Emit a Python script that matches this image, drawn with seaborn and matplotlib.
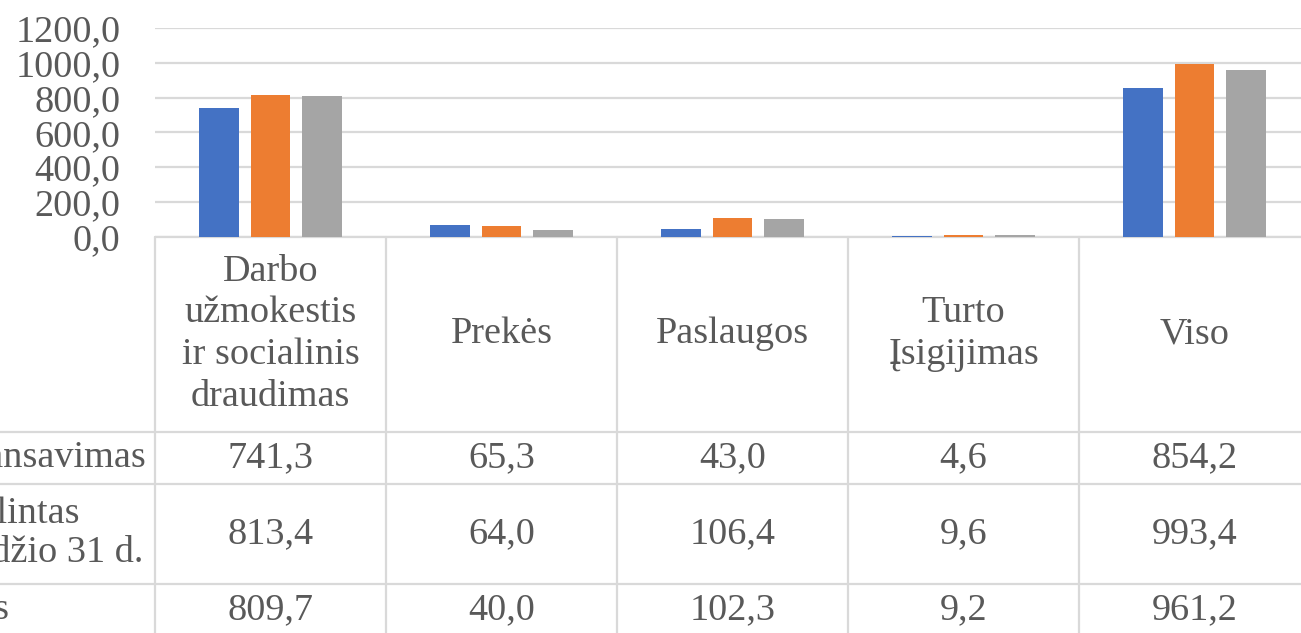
import matplotlib.pyplot as plt
import pandas as pd
import seaborn as sns


CATEGORIES = ["Darbo\nužmokestis\nir socialinis\ndraudimas", "Prekės", "Paslaugos", "Turto\nĮsigijimas", "Viso"]
SERIES = ["Finansavimas", "Patikslintas\niki gruodžio 31 d.", "Kasinės išlaidos"]
FINANSAVIMAS = [741.3, 65.3, 43.0, 4.6, 854.2]
PATIKSLINTAS = [813.4, 64.0, 106.4, 9.6, 993.4]
KASINES = [809.7, 40.0, 102.3, 9.2, 961.2]
Y_TICKS = [0, 200, 400, 600, 800, 1000, 1200]

COLORS = ["#4472C4", "#ED7D31", "#A5A5A5"]
TEXT = "#595959"
LINE = "#D9D9D9"
FS = 27.5

W, H = 1301, 633


def fmt(v: float) -> str:
    return f"{v:.1f}".replace(".", ",")


def main() -> None:
    sns.set_theme(style="white")
    plt.rcParams["font.family"] = ["Liberation Serif", "DejaVu Serif"]
    plt.rcParams["font.size"] = FS

    values = [FINANSAVIMAS, PATIKSLINTAS, KASINES]
    frame = pd.DataFrame(
        [
            {"category": c, "series": s, "value": v}
            for s, vals in zip(SERIES, values)
            for c, v in zip(CATEGORIES, vals)
        ]
    )

    fig = plt.figure(figsize=(W / 100, H / 100), dpi=100)

    # table grid drawn in pixel coordinates
    tab = fig.add_axes([0, 0, 1, 1])
    tab.set_xlim(0, W)
    tab.set_ylim(H, 0)
    tab.axis("off")

    x0, col_w = 155, 231
    y_axis = 236.7
    row_lines = [432, 484, 584]
    for i in range(len(CATEGORIES) + 1):
        tab.plot([x0 + i * col_w] * 2, [y_axis, H + 5], color=LINE, lw=1.6, zorder=1)
    tab.plot([x0, W + 10], [y_axis, y_axis], color=LINE, lw=1.6, zorder=1)
    for y in row_lines:
        tab.plot([-10, W + 10], [y, y], color=LINE, lw=1.6, zorder=1)

    # header labels
    for i, cat in enumerate(CATEGORIES):
        tab.text(x0 + (i + 0.5) * col_w, 334, cat, ha="center", va="center",
                 color=TEXT, linespacing=1.27, fontsize=FS)

    # row labels (cut by the left edge, as in the source)
    row_centers = [458, 534, 610]
    tab.text(147, row_centers[0], SERIES[0], ha="right", va="center", color=TEXT, fontsize=FS)
    first, second = SERIES[1].split("\n")
    tab.text(80, 514, first, ha="right", va="center", color=TEXT, fontsize=FS)
    tab.text(143, 552, second, ha="right", va="center", color=TEXT, fontsize=FS)
    tab.text(9, row_centers[2], SERIES[2], ha="right", va="center", color=TEXT, fontsize=FS)

    for r, vals in enumerate(values):
        for i, v in enumerate(vals):
            tab.text(x0 + (i + 0.5) * col_w, row_centers[r], fmt(v), ha="center",
                     va="center", color=TEXT, fontsize=FS)

    # bar chart
    ax = fig.add_axes([x0 / W, 1 - y_axis / H, len(CATEGORIES) * col_w / W, (y_axis - 28.3) / H])
    ax.patch.set_alpha(0)
    sns.barplot(
        data=frame,
        x="category",
        y="value",
        hue="series",
        palette=COLORS,
        saturation=1,
        width=0.669,
        gap=0.224,
        linewidth=0,
        ax=ax,
        zorder=3,
    )
    ax.set_ylim(0, 1200)
    ax.set_xlim(-0.5, len(CATEGORIES) - 0.5)
    ax.set_yticks(Y_TICKS)
    ax.set_yticklabels([fmt(t) for t in Y_TICKS], color=TEXT)
    ax.tick_params(axis="y", length=0, pad=25, labelsize=FS)
    ax.set_xticks([])
    ax.set_xlabel("")
    ax.set_ylabel("")
    ax.yaxis.grid(True, color=LINE, lw=1.6, zorder=0)
    ax.set_axisbelow(True)
    for spine in ax.spines.values():
        spine.set_visible(False)
    ax.legend_.remove()

    fig.savefig("out.png", dpi=100)
    plt.close(fig)


if __name__ == "__main__":
    main()
